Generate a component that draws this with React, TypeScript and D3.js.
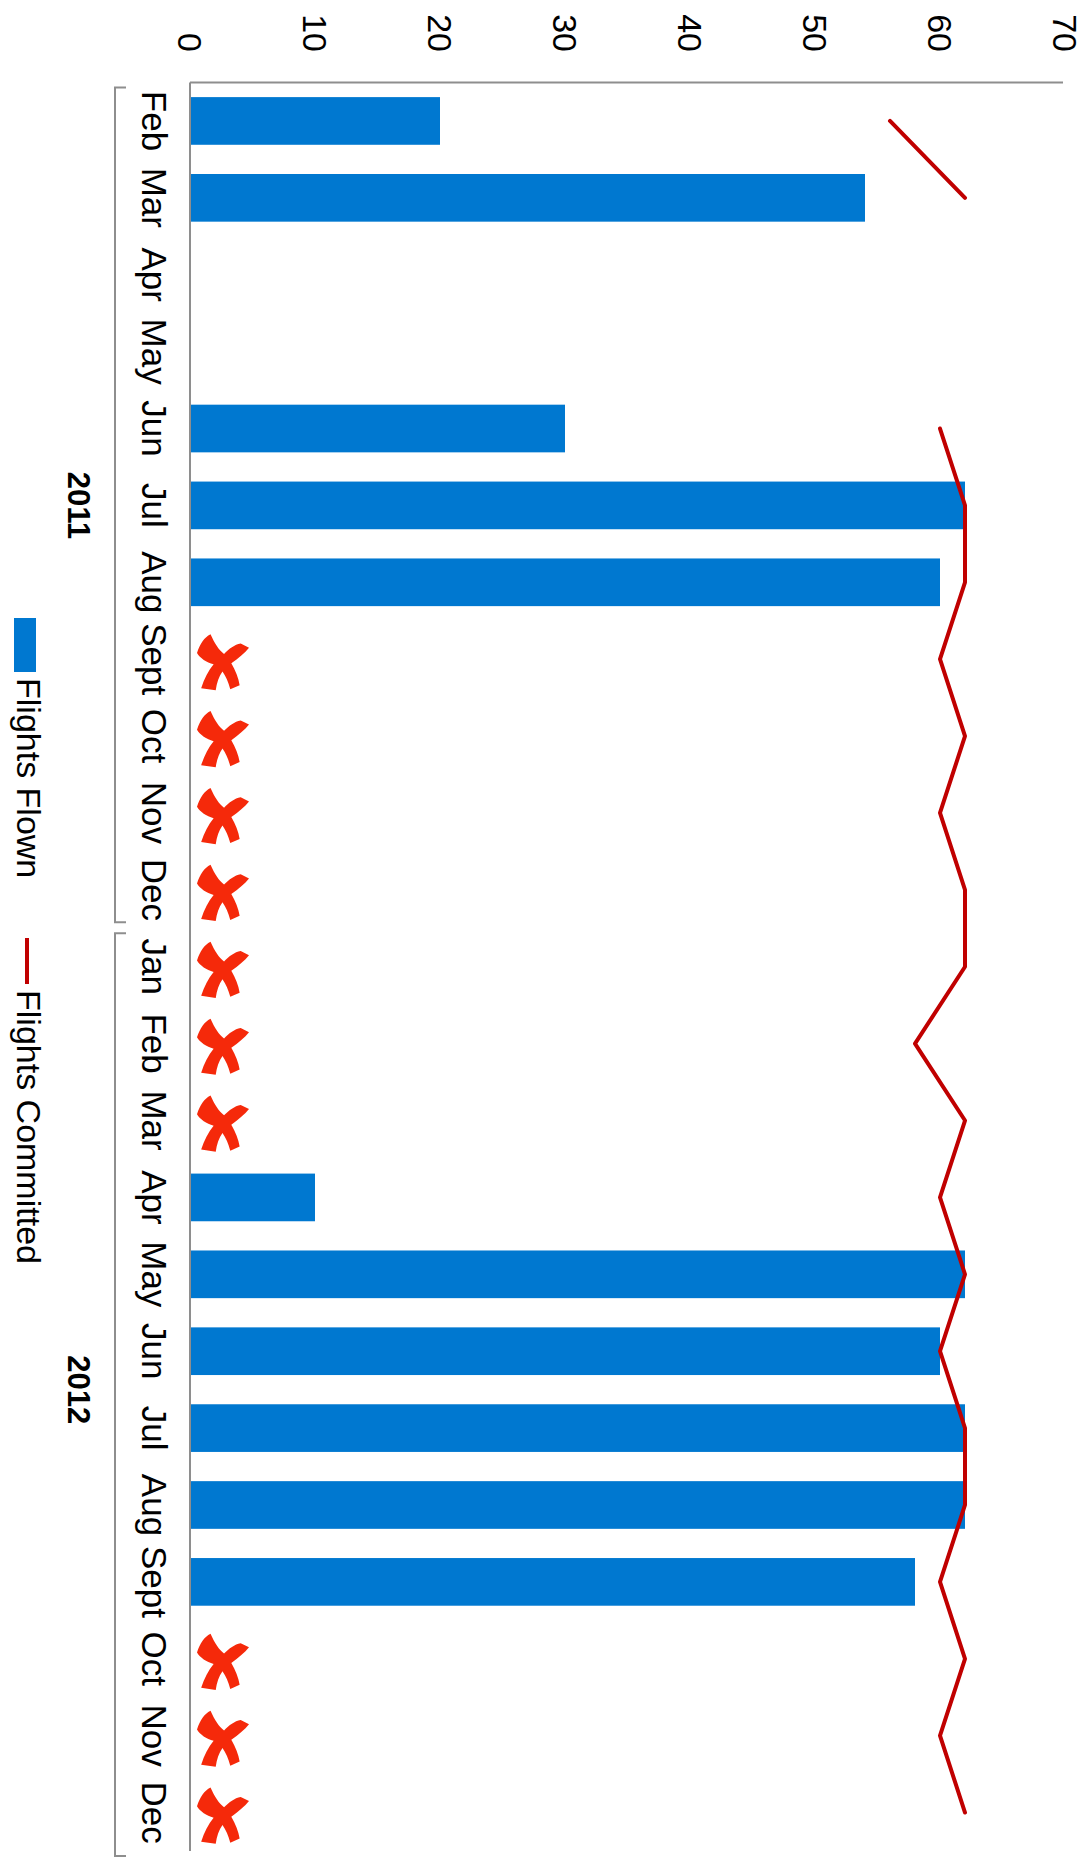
import React from "react";
import * as d3 from "d3";

const months = ["Feb","Mar","Apr","May","Jun","Jul","Aug","Sept","Oct","Nov","Dec","Jan","Feb","Mar","Apr","May","Jun","Jul","Aug","Sept","Oct","Nov","Dec"];
const yearLabels = ["2011", "2012"];
const yearMonthCounts = [11, 12];
const flightsFlown: (number | null)[] = [20,54,null,null,30,62,60,null,null,null,null,null,null,null,10,62,60,62,62,58,null,null,null];
const flightsCommitted: (number | null)[] = [56,62,null,null,60,62,62,60,62,60,62,62,58,62,60,62,60,62,62,60,62,60,62];
const cancelled = [false,false,false,false,false,false,false,true,true,true,true,true,true,true,false,false,false,false,false,false,true,true,true];
const valueTicks = [0,10,20,30,40,50,60,70];
const legendLabels = ["Flights Flown", "Flights Committed"];

const W = 1865; // chart drawn unrotated, then turned 90deg clockwise
const H = 1087;
const FONT = "'Liberation Sans', Arial, Helvetica, sans-serif";
const BLUE = "#0078D0";
const RED = "#C00000";
const XRED = "#F5290A";
const GRAY = "#8E8E8E";

const X_PATH = "M26,0 C34,18 42,30 52,38 C62,28 72,20 84,18 L100,26 C92,36 80,46 66,56 C74,70 80,84 82,98 L64,106 C60,92 56,82 49,72 C42,82 38,94 36,108 L8,104 C14,86 22,70 32,58 C18,54 6,46 0,36 C6,18 14,6 26,0 Z";

export default function App() {
  const x = d3.scaleBand<number>()
    .domain(d3.range(months.length))
    .range([82.5, 1851])
    .paddingInner(0.38)
    .paddingOuter(0.19);
  const y = d3.scaleLinear().domain([0, 70]).range([897, 22]);
  const bw = x.bandwidth();
  const step = x.step();
  const cx = (i: number) => (x(i) as number) + bw / 2;
  const bandStart = (i: number) => 82.5 + i * step;

  const line = d3.line<number | null>()
    .defined(d => d != null)
    .x((_, i) => cx(i))
    .y(d => y(d as number));

  let acc = 0;
  const groups = yearLabels.map((lab, gi) => {
    const s = acc;
    acc += yearMonthCounts[gi];
    return { lab, s, e: acc };
  });

  return (
    <svg width={1087} height={1865} style={{ position: "absolute", left: 0, top: 0, display: "block", background: "#fff" }}>
      <g transform={`translate(${H},0) rotate(90)`} fontFamily={FONT}>
        {/* bars */}
        {flightsFlown.map((v, i) => v == null ? null : (
          <rect key={"b" + i} x={x(i)} y={y(v)} width={bw} height={y(0) - y(v)} fill={BLUE} />
        ))}
        {/* cancelled markers */}
        {cancelled.map((c, i) => !c ? null : (
          <g key={"x" + i} transform={`translate(${cx(i) + 3},${y(0) - 33}) rotate(-90)`}>
            <path d={X_PATH} transform="translate(-26,-28) scale(0.52)" fill={XRED} />
          </g>
        ))}
        {/* committed line */}
        <path d={line(flightsCommitted) || ""} fill="none" stroke={RED} strokeWidth={4} strokeLinejoin="round" strokeLinecap="round" />
        {/* axes */}
        <line x1={82.5} x2={82.5} y1={y(0)} y2={y(70) + 2} stroke={GRAY} strokeWidth={2} />
        <line x1={82.5} x2={1851} y1={y(0)} y2={y(0)} stroke={GRAY} strokeWidth={2} />
        {valueTicks.map(t => (
          <text key={"t" + t} x={52} y={y(t)} textAnchor="end" dominantBaseline="central" fontSize={34} fill="#000">{t}</text>
        ))}
        {months.map((m, i) => (
          <text key={"m" + i} x={cx(i)} y={945} textAnchor="middle" fontSize={35} fill="#000">{m}</text>
        ))}
        {groups.map((g, gi) => {
          const a = bandStart(g.s) + 5;
          const b = gi === groups.length - 1 ? bandStart(g.e) + 5 : bandStart(g.e) - 6;
          return (
            <g key={"g" + gi}>
              <path d={`M${a},961 L${a},972 L${b},972 L${b},961`} fill="none" stroke={GRAY} strokeWidth={2} />
              <text x={(bandStart(g.s) + bandStart(g.e)) / 2} y={1019} textAnchor="middle" fontSize={31} fontWeight="bold" fill="#000">{g.lab}</text>
            </g>
          );
        })}
        {/* legend */}
        <rect x={618} y={1051} width={54} height={22} fill={BLUE} />
        <text x={678} y={1070} fontSize={34} fill="#000">{legendLabels[0]}</text>
        <line x1={938} x2={984} y1={1060} y2={1060} stroke={RED} strokeWidth={4} />
        <text x={990} y={1070} fontSize={34} fill="#000">{legendLabels[1]}</text>
      </g>
    </svg>
  );
}
